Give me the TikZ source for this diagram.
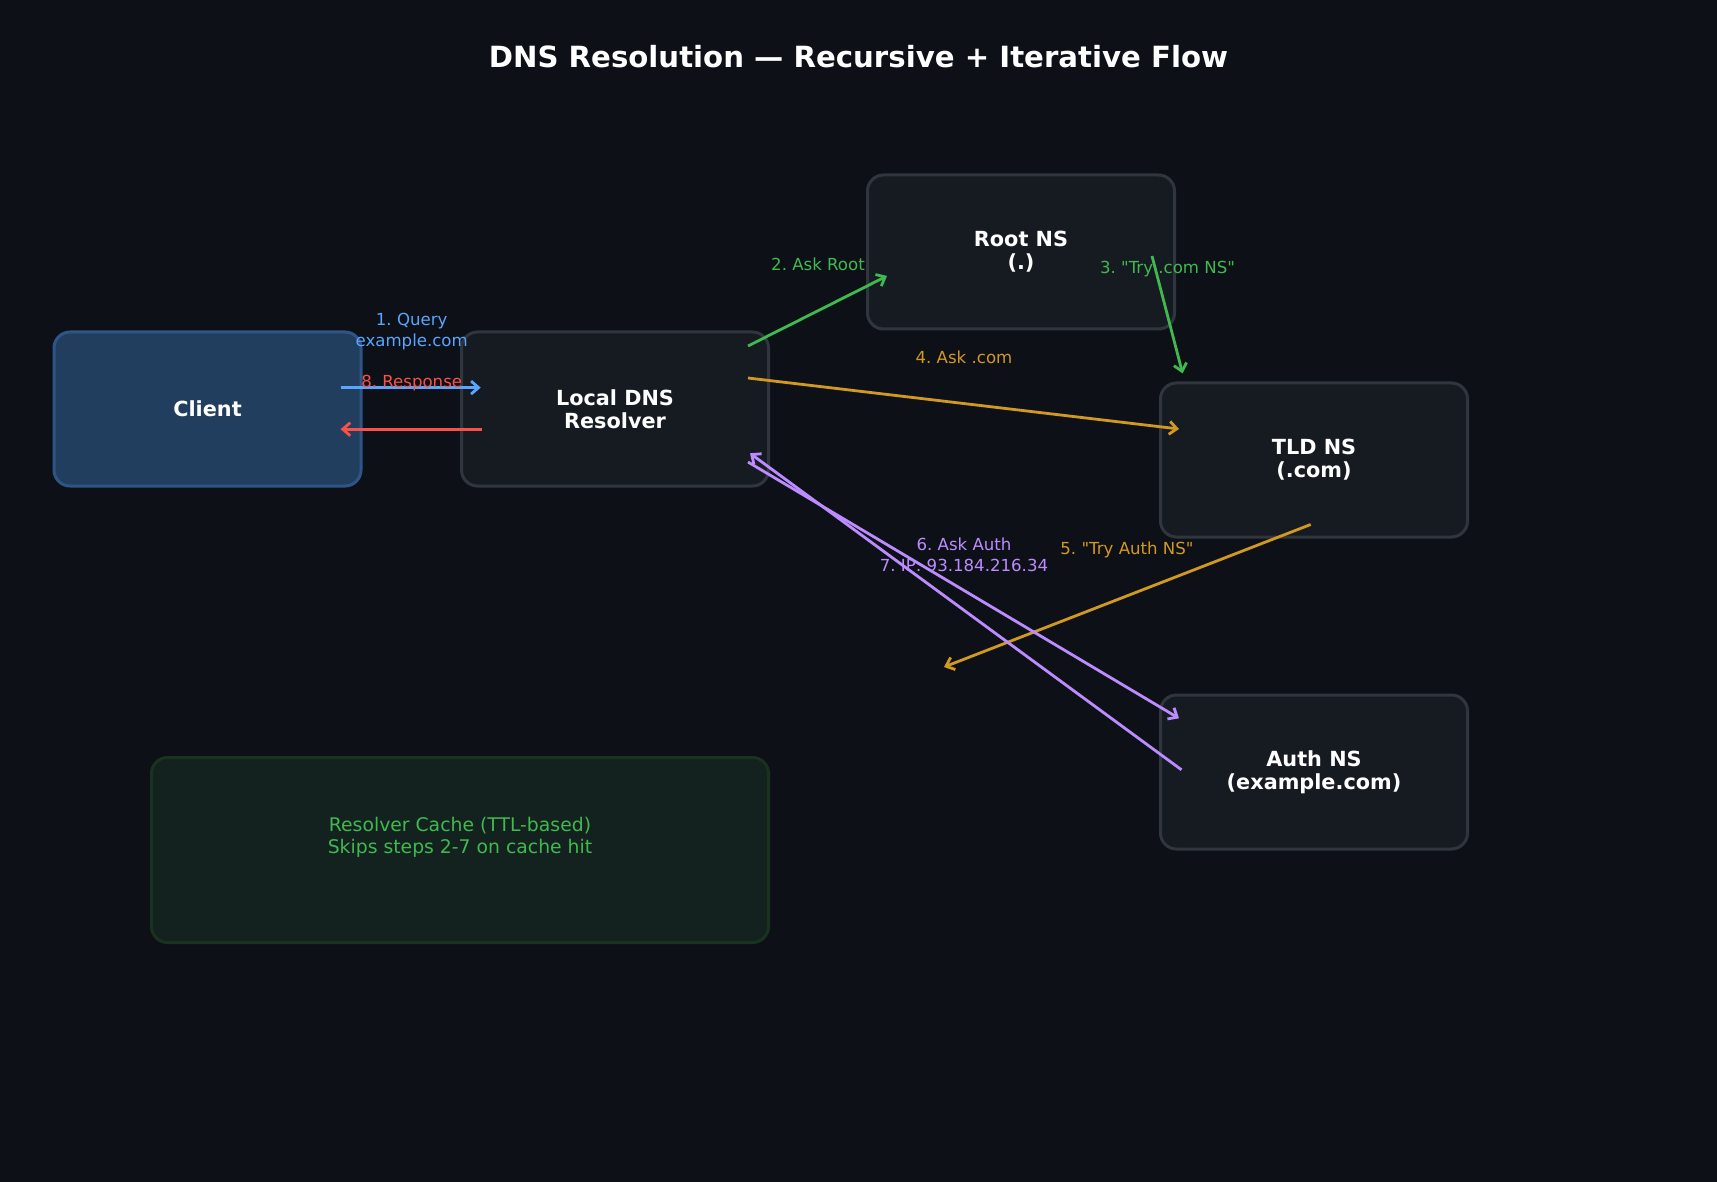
\documentclass[tikz,border=0pt]{standalone}
\usepackage{fontspec}
\setmainfont[Ligatures=TeXOff]{DejaVu Sans}
\usetikzlibrary{arrows.meta}
\definecolor{bgc}{HTML}{0D1117}
\definecolor{boxfill}{HTML}{161B22}
\definecolor{boxline}{HTML}{30363D}
\definecolor{clientfill}{HTML}{223E5E}
\definecolor{clientline}{HTML}{2E5585}
\definecolor{cachefill}{HTML}{13221E}
\definecolor{cacheline}{HTML}{19331F}
\definecolor{cblue}{HTML}{58A6FF}
\definecolor{cred}{HTML}{F85149}
\definecolor{cgreen}{HTML}{3FB950}
\definecolor{corange}{HTML}{D29922}
\definecolor{cpurple}{HTML}{BC8CFF}
\tikzset{
  srv/.style={draw=boxline, fill=boxfill, line width=3pt, rounded corners=16pt,
    minimum width=307pt, minimum height=154pt, text=white, align=center,
    font=\fontsize{20.8}{23}\selectfont\bfseries},
  conn/.style={line width=2.8pt, -{Straight Barb[length=7.5pt,width=13pt,line width=2.8pt]}},
  lbl/.style={align=center, font=\fontsize{16.6}{21}\selectfont\frenchspacing, inner sep=0pt}
}
\begin{document}
\begin{tikzpicture}[x=1pt,y=-1pt]
\fill[bgc] (0,0) rectangle (1717,1182);
\useasboundingbox (0,0) rectangle (1717,1182);
\node[text=white, font=\fontsize{29.2}{32}\selectfont\bfseries] (title) at (858.5,57) {DNS Resolution — Recursive + Iterative Flow};
\node[srv, fill=clientfill, draw=clientline] (client) at (207.5,409) {Client};
\node[srv] (res) at (615,409) {Local DNS\\Resolver};
\node[srv] (root) at (1021,252) {Root NS\\(.)};
\node[srv] (tld) at (1314,460) {TLD NS\\(.com)};
\node[srv] (auth) at (1314,772) {Auth NS\\(example.com)};
\node[srv, fill=cachefill, draw=cacheline, minimum width=617pt, minimum height=185pt] (cache) at (460,850) {};
\node[lbl, text=cgreen, font=\fontsize{18.8}{22}\selectfont] (cachetxt) at (460,837.5) {Resolver Cache (TTL-based)\\Skips steps 2-7 on cache hit};
% endpoints
\coordinate (q1s) at (340.6,387.6); \coordinate (q1e) at (480.7,387.6);
\coordinate (r8s) at (481.8,429.2); \coordinate (r8e) at (340.6,429.2);
\coordinate (a2s) at (748,346); \coordinate (a2e) at (887,276);
\coordinate (t3s) at (1152,256); \coordinate (t3e) at (1182.6,373.4);
\coordinate (a4s) at (748,378); \coordinate (a4e) at (1179,429);
\coordinate (t5s) at (1310.7,524.5); \coordinate (t5e) at (944,667);
\coordinate (a6s) at (748,462); \coordinate (a6e) at (1179,718.3);
\coordinate (i7s) at (1181.5,769.8); \coordinate (i7e) at (750,453.3);
\draw[conn, cblue] (q1s) -- (q1e);
\draw[conn, cred] (r8s) -- (r8e);
\draw[conn, cgreen] (a2s) -- (a2e);
\draw[conn, cgreen] (t3s) -- (t3e);
\draw[conn, corange] (a4s) -- (a4e);
\draw[conn, corange] (t5s) -- (t5e);
\draw[conn, cpurple] (a6s) -- (a6e);
\draw[conn, cpurple] (i7s) -- (i7e);
\node[lbl, text=cblue] (l1) at (411.7,332) {1. Query\\example.com};
\node[lbl, text=cred] (l8) at (411.7,383.5) {8. Response};
\node[lbl, text=cgreen] (l2) at (818,264.5) {2. Ask Root};
\node[lbl, text=cgreen] (l3) at (1167.5,269.5) {3. "Try .com NS"};
\node[lbl, text=corange] (l4) at (964,357.5) {4. Ask .com};
\node[lbl, text=corange] (l5) at (1127,550) {5. "Try Auth NS"};
\node[lbl, text=cpurple] (l67) at (964,554.5) {6. Ask Auth\\7. IP: 93.184.216.34};
\end{tikzpicture}
\end{document}
